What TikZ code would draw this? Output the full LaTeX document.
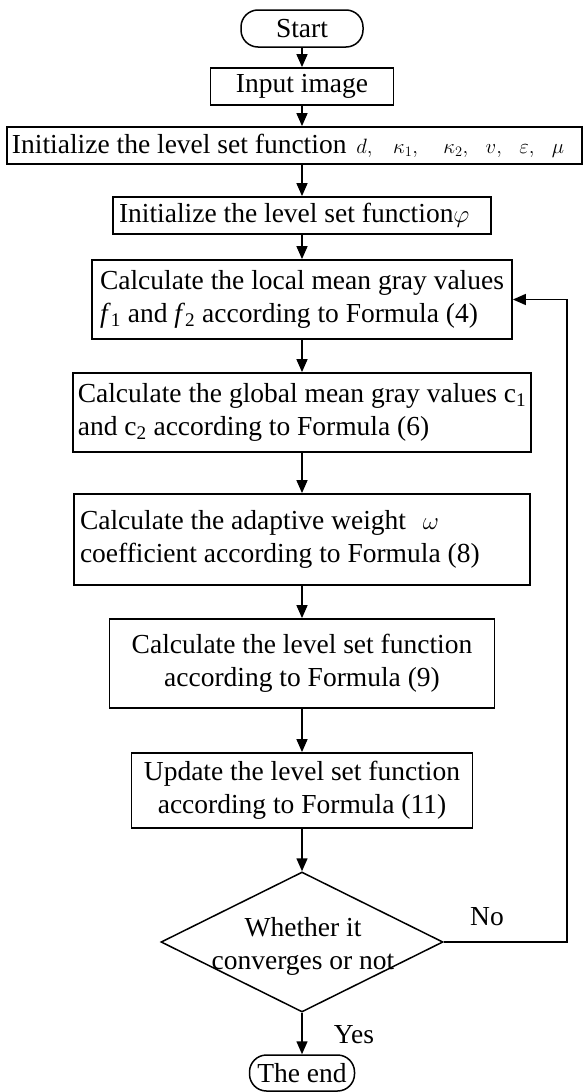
\documentclass[tikz,border=0pt]{standalone}
\usepackage{fontspec}
\setmainfont{Liberation Serif}
\usetikzlibrary{arrows.meta,shapes.geometric}
\newcommand\resetsp{\spaceskip=0pt\xspaceskip=0pt\relax}
\begin{document}
\begin{tikzpicture}[x=1pt,y=-1pt,
  every node/.style={font=\fontsize{27.5}{33}\selectfont},
  procbox/.style={draw, line width=1.8pt, inner xsep=7pt, inner ysep=0pt, align=left},
  term/.style={draw, line width=1.5pt, rounded corners=17pt},
  arr/.style={line width=1.5pt, -{Triangle[length=13pt,width=11pt]}}]
\useasboundingbox (0,0) rectangle (588,1092);

\node[term, minimum width=122pt, minimum height=37pt] (start) at (302,28.5) {Start};
\node[procbox, align=center, minimum width=183pt, minimum height=37pt] (input) at (302,86.5) {Input image};
\node[procbox, text width=565pt, inner xsep=5pt, minimum height=37pt] (init1) at (294.5,145.5)
  {\resetsp Initialize the level set function\hspace{10pt}{\fontsize{22}{22}\selectfont$d,\hspace{17pt}\kappa_1,\hspace{22pt}\kappa_2,\hspace{14pt}v,\hspace{14pt}\varepsilon,\hspace{14pt}\mu$}};
\node[procbox, text width=366pt, inner xsep=6pt, minimum height=37pt] (init2) at (302,215.5)
  {\resetsp Initialize the level set function{\fontsize{34}{30}\selectfont$\varphi$}};
\node[procbox, inner xsep=5pt, minimum width=420pt, minimum height=79pt] (box3) at (302,299.5)
  {Calculate the local mean gray values\\ \textit{f}\textsubscript{1} and \textit{f}\textsubscript{2} according to Formula (4)};
\node[procbox, inner xsep=4pt, minimum width=458pt, minimum height=79pt] (box4) at (302,412.5)
  {Calculate the global mean gray values c\textsubscript{1}\\ and c\textsubscript{2} according to Formula (6)};
\node[procbox, text width=444pt, inner xsep=6pt, minimum height=91pt] (box5) at (302,539.5)
  {\resetsp Calculate the adaptive weight \hspace{10pt}{\fontsize{23}{20}\selectfont$\omega$}\\ coefficient according to Formula (8)};
\node[procbox, align=center, minimum width=385pt, minimum height=89pt] (box6) at (302,663.5)
  {Calculate the level set function\\ according to Formula (9)};
\node[procbox, align=center, minimum width=341pt, minimum height=75pt] (box7) at (302,790.5)
  {Update the level set function\\ according to Formula (11)};
\node[diamond, draw, line width=1.5pt, minimum width=282pt, minimum height=140pt, inner sep=0pt] (dec) at (302,942) {};
\node[align=center, inner sep=0pt] (dectext) at (303,946) {Whether it\\ converges or not};
\node[term, minimum width=105pt, minimum height=36pt] (stop) at (302,1073) {The end};
\node (no) at (487,917) {No};
\node (yes) at (354,1035) {Yes};
\coordinate (loopc) at (567,942);

\draw[arr] (start) -- (input);
\draw[arr] (input) -- (input |- init1.north);
\draw[arr] (init2 |- init1.south) -- (init2);
\draw[arr] (init2) -- (box3);
\draw[arr] (box3) -- (box4);
\draw[arr] (box4) -- (box5);
\draw[arr] (box5) -- (box6);
\draw[arr] (box6) -- (box7);
\draw[arr] (box7) -- (dec);
\draw[arr] (dec) -- (stop);
\draw[arr] (dec.east) -- (loopc) |- (box3.east);
\end{tikzpicture}
\end{document}
